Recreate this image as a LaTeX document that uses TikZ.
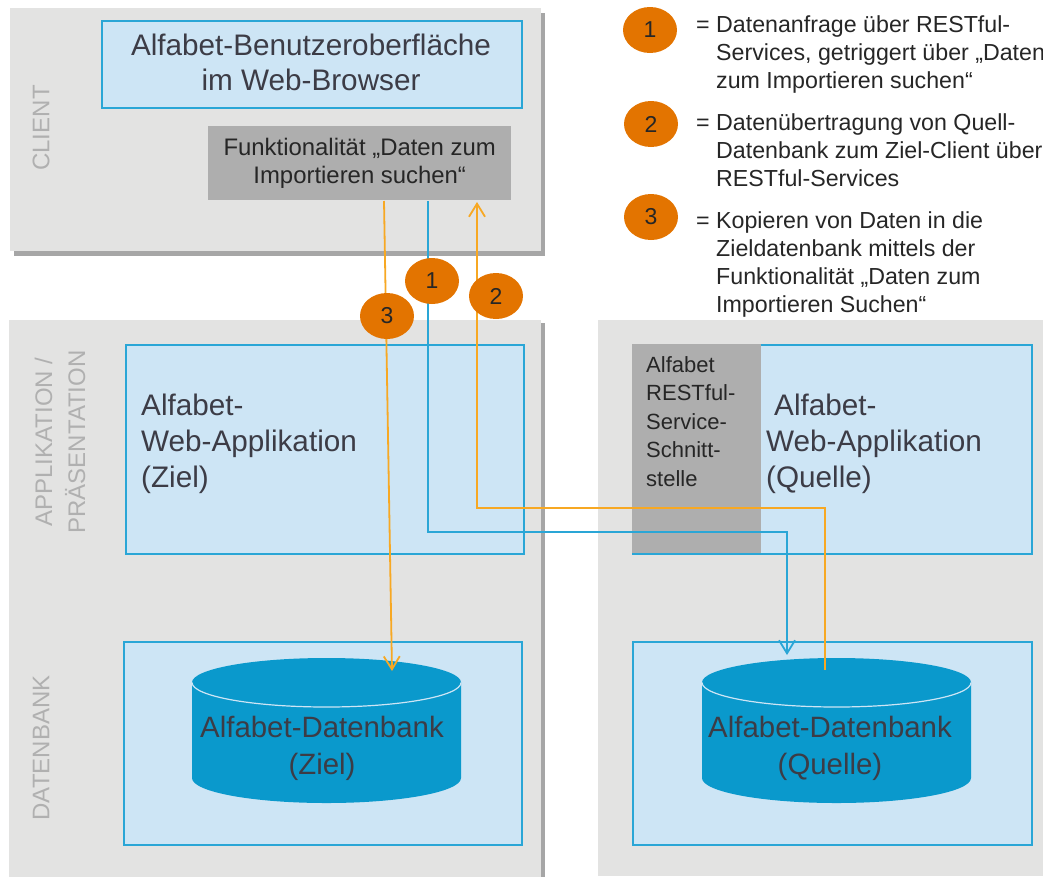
\documentclass[tikz,border=0pt]{standalone}
\usepackage{fontspec}
\setmainfont{Liberation Sans}
\usetikzlibrary{positioning}
\usetikzlibrary{arrows.meta}
\usetikzlibrary{shapes.geometric}
\definecolor{panelgrey}{HTML}{E3E3E2}
\definecolor{shadowgrey}{HTML}{A6A6A6}
\definecolor{boxblue}{HTML}{CDE5F5}
\definecolor{lineblue}{HTML}{2AA6D6}
\definecolor{dbblue}{HTML}{0A99CC}
\definecolor{funcgrey}{HTML}{AEAEAE}
\definecolor{badgeorange}{HTML}{E37400}
\definecolor{floworange}{HTML}{F7A823}
\definecolor{textdark}{HTML}{3C3C46}
\definecolor{tierlabel}{HTML}{B0B0B0}
\newcommand{\drum}[1]{
	\fill[dbblue] (#1-134.5,778) arc[start angle = 180, end angle = 360, x radius = 134.5pt, y radius = 25pt] -- (#1+134.5,682.5) arc[start angle = 0, end angle = 180, x radius = 134.5pt, y radius = 24.5pt] -- cycle;
	\draw[boxblue, line width = 1.2pt] (#1-134.5,682.5) arc[start angle = 180, end angle = 360, x radius = 134.5pt, y radius = 24.5pt];
}
\tikzset{
	panel/.style = {fill = panelgrey, anchor = north west, inner sep = 0pt},
	panelshadow/.style = {fill = shadowgrey, anchor = north west, inner sep = 0pt},
	appbox/.style = {draw = lineblue, fill = boxblue, line width = 1.5pt, anchor = north west, inner sep = 0pt},
	funcbox/.style = {fill = funcgrey, anchor = north west, inner sep = 0pt, align = center, text = black!85, font = \fontsize{23.9}{28}\selectfont},
	badge/.style = {ellipse, fill = badgeorange, inner sep = 0pt, minimum width = 54pt, minimum height = 46pt, text = black!85, font = \fontsize{23}{26}\selectfont},
	apptext/.style = {align = left, anchor = west, inner sep = 0pt, text = textdark, font = \fontsize{29.7}{36}\selectfont},
	tier/.style = {rotate = 90, align = center, inner sep = 0pt, text = tierlabel, font = \fontsize{24}{33}\selectfont},
	legend/.style = {align = left, anchor = north west, inner sep = 0pt, text = black!85, font = \fontsize{23.2}{28}\selectfont},
	dbtext/.style = {align = center, inner sep = 0pt, text = textdark, font = \fontsize{29.4}{37}\selectfont},
	flowblueline/.style = {draw = lineblue, line width = 1.8pt, -{Straight Barb[length = 13pt, width = 16pt]}},
	floworangeline/.style = {draw = floworange, line width = 1.8pt, -{Straight Barb[length = 13pt, width = 16pt]}}
}
\begin{document}
\begin{tikzpicture}[x = 1pt, y = -1pt]
	\useasboundingbox (0,0) rectangle (1043,876);
	
	% panels
	\node[panelshadow, minimum width = 531pt, minimum height = 243pt] (clientshadow) at (14,13) {};
	\node[panel, minimum width = 531pt, minimum height = 243pt] (client) at (10,8) {};
	\node[panelshadow, minimum width = 531pt, minimum height = 560pt] (zielshadow) at (14,323) {};
	\node[panel, minimum width = 532pt, minimum height = 560pt] (zielpanel) at (9,320) {};
	\node[panel, minimum width = 445pt, minimum height = 556pt] (quellepanel) at (598,320) {};
	
	% tier labels
	\node[tier] (tierclient) at (41,128) {CLIENT};
	\node[tier] (tierapp) at (60,442) {APPLIKATION /\\PRÄSENTATION};
	\node[tier] (tierdb) at (41,748) {DATENBANK};
	
	% boxes
	\node[appbox, minimum width = 420pt, minimum height = 87pt] (browser) at (101,20) {};
	\node[apptext, align = center, anchor = center, font = \fontsize{29.7}{35}\selectfont] (browsertext) at (311,62) {Alfabet-Benutzeroberfläche\\im Web-Browser};
	\node[funcbox, minimum width = 303pt, minimum height = 74pt] (func) at (208,126) {Funktionalität „Daten zum\\Importieren suchen“};
	\node[appbox, minimum width = 398pt, minimum height = 209pt] (appziel) at (125,344) {};
	\node[appbox, minimum width = 399pt, minimum height = 209pt] (appquelle) at (632,344) {};
	\node[appbox, minimum width = 398pt, minimum height = 203pt] (dbziel) at (123,641) {};
	\node[appbox, minimum width = 399pt, minimum height = 203pt] (dbquelle) at (632,641) {};
	\node[funcbox, minimum width = 129pt, minimum height = 209pt] (rest) at (632,344) {};
	\node[align = left, anchor = north west, inner sep = 0pt, text = black!85, font = \fontsize{22}{28.5}\selectfont] (resttext) at (646,356) {Alfabet\\RESTful-\\Service-\\Schnitt-\\stelle};
	
	\node[apptext] (appzieltext) at (141,444) {Alfabet-\\Web-Applikation\\(Ziel)};
	\node[apptext] (appquelletext) at (766,444) {\hspace{8pt}Alfabet-\\Web-Applikation\\(Quelle)};
	
	% databases
	\drum{326.5}
	\drum{836.5}
	\node[dbtext] (zieldbtext) at (322,748) {Alfabet-Datenbank\\(Ziel)};
	\node[dbtext] (quelledbtext) at (830,748) {Alfabet-Datenbank\\(Quelle)};
	
	% flows
	\coordinate (startone) at (428,201);
	\coordinate (turnoneA) at (428,532);
	\coordinate (turnoneB) at (787,532);
	\coordinate (endone) at (787,655);
	\coordinate (starttwo) at (825,670);
	\coordinate (turntwoA) at (825,508);
	\coordinate (turntwoB) at (477,508);
	\coordinate (endtwo) at (477,202);
	\coordinate (startthree) at (384,201);
	\coordinate (endthree) at (392,671);
	\path[flowblueline] (startone) -- (turnoneA) -- (turnoneB) -- (endone);
	\path[floworangeline] (starttwo) -- (turntwoA) -- (turntwoB) -- (endtwo);
	\path[floworangeline] (startthree) -- (endthree);
	
	% badges on the flows
	\node[badge] (one) at (432,281) {1};
	\node[badge] (two) at (496,296) {2};
	\node[badge] (three) at (387,316) {3};
	
	% legend
	\node[badge] (legendone) at (650,30) {1};
	\node[badge] (legendtwo) at (651,124) {2};
	\node[badge] (legendthree) at (651,217) {3};
	\node[legend] (legendonetext) at (696,15) {= Datenanfrage über RESTful-\\\hspace{20pt}Services, getriggert über „Daten\\\hspace{20pt}zum Importieren suchen“};
	\node[legend] (legendtwotext) at (696,113) {= Datenübertragung von Quell-\\\hspace{20pt}Datenbank zum Ziel-Client über\\\hspace{20pt}RESTful-Services};
	\node[legend] (legendthreetext) at (696,211) {= Kopieren von Daten in die\\\hspace{20pt}Zieldatenbank mittels der\\\hspace{20pt}Funktionalität „Daten zum\\\hspace{20pt}Importieren Suchen“};
\end{tikzpicture}
\end{document}
